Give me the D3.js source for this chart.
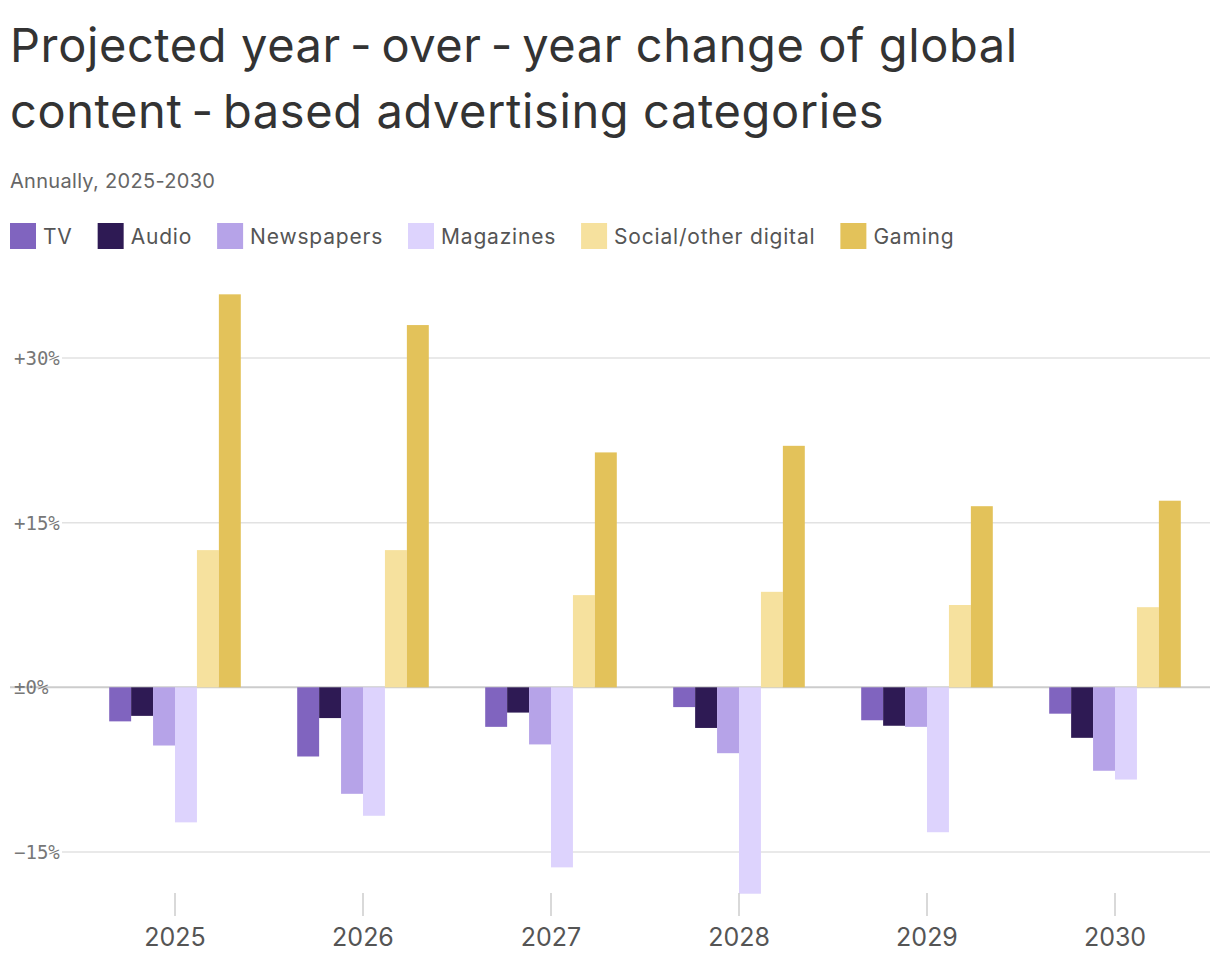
<!DOCTYPE html>
<html><head><meta charset="utf-8">
<script src="https://cdn.jsdelivr.net/npm/d3@7"></script>
<style>body{margin:0;background:#fff;font-family:Inter,"Noto Sans",sans-serif}</style>
</head><body><svg width="1220" height="970"></svg>
<script>
var years = ["2025","2026","2027","2028","2029","2030"]
var series = ["TV","Audio","Newspapers","Magazines","Social/other digital","Gaming"]
var colors = ["#8064bf","#2e1a54","#b6a3e8","#ddd3fd","#f6e19e","#e3c25a"]
var tv = [-3.1,-6.3,-3.6,-1.8,-3.0,-2.4]
var audio = [-2.6,-2.8,-2.3,-3.7,-3.5,-4.6]
var newspapers = [-5.3,-9.7,-5.2,-6.0,-3.6,-7.6]
var magazines = [-12.3,-11.7,-16.4,-18.8,-13.2,-8.4]
var social = [12.5,12.5,8.4,8.7,7.5,7.3]
var gaming = [35.8,33.0,21.4,22.0,16.5,17.0]
var tickVals = [-15,0,15,30]
var tickLabels = ["\u221215%","\u00b10%","+15%","+30%"]

var values = [tv,audio,newspapers,magazines,social,gaming]
var svg = d3.select("svg")

svg.append("text").attr("x",10).attr("y",62).attr("font-size",47).attr("letter-spacing",0.6).attr("fill","#333").text("Projected year\u2009-\u2009over\u2009-\u2009year change of global")
svg.append("text").attr("x",10).attr("y",128).attr("font-size",47).attr("letter-spacing",0.6).attr("fill","#333").text("content\u2009-\u2009based advertising categories")
svg.append("text").attr("x",10).attr("y",188).attr("font-size",20).attr("letter-spacing",0.3).attr("fill","#666").text("Annually, 2025-2030")

// legend
var lx = 10
series.forEach(function(s,i){
    var g = svg.append("g").attr("transform","translate("+lx+",223)")
    g.append("rect").attr("width",26).attr("height",26).attr("fill",colors[i])
    var t = g.append("text").attr("x",33).attr("y",21).attr("font-size",21).attr("letter-spacing",0.8).attr("fill","#555").text(s)
    lx += 33 + t.node().getComputedTextLength() + 25
})

var y = d3.scaleLinear().domain([-15,30]).range([852,358])
var x0 = d3.scaleBand().domain(years).range([81,1209]).paddingInner(0.3).paddingOuter(0.15)
var x1 = d3.scaleBand().domain(series).range([0,x0.bandwidth()])

// grid
svg.append("g").selectAll("line").data(tickVals).enter().append("line")
    .attr("x1",d=>d===0?10:62).attr("x2",1210)
    .attr("y1",d=>y(d)).attr("y2",d=>y(d))
    .attr("stroke",d=>d===0?"#ccc":"#e2e2e2").attr("stroke-width",d=>d===0?2:1.5)
svg.append("g").selectAll("text").data(tickVals).enter().append("text")
    .attr("x",14).attr("y",d=>y(d)+7)
    .attr("font-family","'DejaVu Sans Mono',monospace").attr("font-size",19).attr("fill","#777")
    .text((d,i)=>tickLabels[i])

// bars
var groups = svg.append("g").selectAll("g").data(years).enter().append("g")
    .attr("transform",d=>"translate("+x0(d)+",0)")
groups.selectAll("rect").data((d,i)=>series.map((s,j)=>({s:s,v:values[j][i],c:colors[j]})))
    .enter().append("rect")
    .attr("x",d=>x1(d.s)).attr("width",x1.bandwidth())
    .attr("y",d=>y(Math.max(0,d.v))).attr("height",d=>Math.abs(y(d.v)-y(0)))
    .attr("fill",d=>d.c)

// x axis
var xa = svg.append("g").selectAll("g").data(years).enter().append("g")
    .attr("transform",d=>"translate("+(x0(d)+x0.bandwidth()/2)+",0)")
xa.append("line").attr("y1",893).attr("y2",916).attr("stroke","#ccc").attr("stroke-width",1.5)
xa.append("text").attr("y",946).attr("text-anchor","middle").attr("font-size",25).attr("fill","#555").text(d=>d)
</script></body></html>
